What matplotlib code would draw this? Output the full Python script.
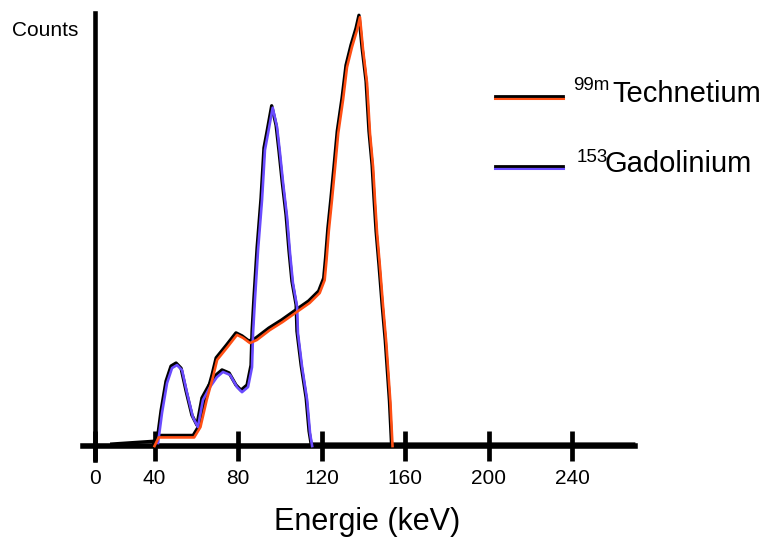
import matplotlib.pyplot as plt
import matplotlib.transforms as mtransforms
from matplotlib.lines import Line2D

plt.rcParams['font.family'] = ['Liberation Sans', 'DejaVu Sans']

# Tc-99m spectrum (energy in keV, counts in arbitrary units)
tc_kev = [40, 42, 59, 62, 65, 68, 70, 75, 79.5, 82.4, 85.7, 89, 95.2, 101.4,
          108.1, 114.3, 119.1, 121.5, 122.4, 123.5, 125, 126.5, 128, 130.3,
          132.2, 134.6, 137, 138.4, 139.9, 141.8, 143.2, 144.7, 145.6, 146.6,
          148, 149.5, 151, 152, 153, 154]
tc_counts = [0, 2, 2, 4.4, 10.7, 16, 20, 23, 25.8, 25.1, 23.9, 24.6, 26.9, 28.8,
             31.1, 33.2, 35.5, 38.5, 43.2, 50, 57.1, 64.7, 72.6, 80.3,
             87.9, 92.6, 96.5, 99.5, 91.9, 84.2, 72.6, 64.7, 57.1, 49.4,
             41.5, 32.3, 24, 17, 10, 0]

# Gd-153 spectrum
gd_kev = [41.7, 43.6, 46.0, 48.4, 50.8, 53.2, 55.6, 58.4, 60.8, 63.2, 66.6,
          69.9, 72.8, 76.2, 79.5, 81.9, 84.8, 86.7, 87.2, 88.1, 89.6, 91.5,
          92.9, 94.4, 96.6, 98.7, 100.1, 101.6, 103.5, 104.9, 106.3, 108.3,
          108.7, 110.7, 113.1, 114.5, 115.5]
gd_counts = [0.7, 7.7, 14.6, 18.1, 18.8, 17.6, 12.3, 6.7, 4.4, 10.7, 13.7,
             16.0, 17.2, 16.5, 13.7, 12.5, 13.7, 18.3, 26.2, 33.9, 45.5, 57.1,
             68.7, 72.6, 78.5, 74.0, 68.0, 61.0, 53.1, 44.8, 37.8, 32.3,
             26.2, 18.3, 10.7, 3.0, 0]

xtick_pos = [11.7, 40, 80, 120, 160, 200, 240]
xtick_labels = ['0', '40', '80', '120', '160', '200', '240']

tc_color = '#ff4f14'
gd_color = '#6a4bff'

fig = plt.figure(figsize=(7.65, 5.4), dpi=100)
ax = fig.add_axes([0, 0, 1, 1])
ax.set_xlim(-34.0, 332.4)
ax.set_ylim(-21.8, 103.5)

# black trace sits a couple of pixels above the coloured one
shifted = mtransforms.offset_copy(ax.transData, fig=fig, x=-1, y=2, units='dots')

ax.plot([20] + gd_kev + [270], [0] + gd_counts + [0], color='black', lw=2.4,
        transform=shifted, zorder=3)
ax.plot(tc_kev, tc_counts, color='black', lw=2.4, transform=shifted, zorder=3)
ax.plot(gd_kev, gd_counts, color=gd_color, lw=1.9, zorder=4)
ax.plot(tc_kev, tc_counts, color=tc_color, lw=1.9, zorder=4)

for side in ['top', 'right']:
    ax.spines[side].set_visible(False)
ax.spines['left'].set_position(('data', 11.7))
ax.spines['left'].set_bounds(-3.3, 100.5)
ax.spines['left'].set_linewidth(3.3)
ax.spines['bottom'].set_position(('data', 0))
ax.spines['bottom'].set_bounds(5.75, 270.2)
ax.spines['bottom'].set_linewidth(4)

ax.set_yticks([])
ax.set_xticks(xtick_pos)
ax.set_xticklabels(xtick_labels)
ax.tick_params(axis='x', direction='inout', length=21, width=3.4, pad=6,
               labelsize=15)
ax.patch.set_visible(False)

fig.text(12 / 765, 1 - 31 / 540, 'Counts', fontsize=15, ha='left', va='center')
fig.text(367.5 / 765, 1 - 522 / 540, 'Energie (keV)', fontsize=22,
         ha='center', va='center')

# legend drawn by hand: coloured stroke under a black one
for ypx, color in [(96, tc_color), (166, gd_color)]:
    y = 1 - ypx / 540
    fig.add_artist(Line2D([495 / 765, 563 / 765], [y - 2 / 540, y - 2 / 540],
                          color=color, lw=2.2, transform=fig.transFigure))
    fig.add_artist(Line2D([495 / 765, 563 / 765], [y, y], color='black',
                          lw=2, transform=fig.transFigure))

fig.text(573 / 765, 1 - 86 / 540, '99m', fontsize=13.5, ha='left', va='center')
fig.text(612 / 765, 1 - 102 / 540, 'Technetium', fontsize=21, ha='left',
         va='baseline')
fig.text(577 / 765, 1 - 157 / 540, '153', fontsize=13.5, ha='left', va='center')
fig.text(605 / 765, 1 - 172 / 540, 'Gadolinium', fontsize=21, ha='left',
         va='baseline')

fig.savefig('out.png', dpi=100)
